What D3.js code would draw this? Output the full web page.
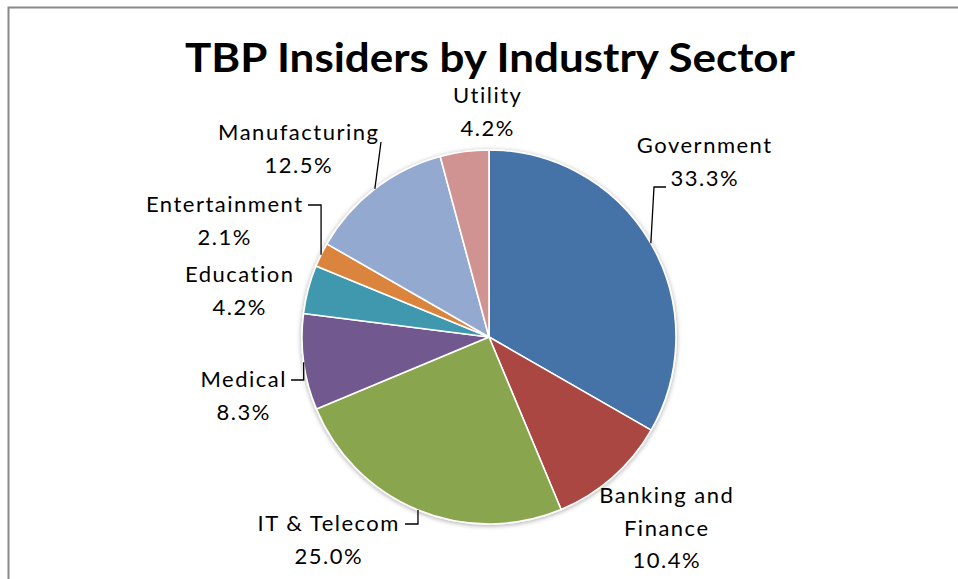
<!DOCTYPE html>
<html>
<head>
<meta charset="utf-8">
<script src="https://cdn.jsdelivr.net/npm/d3@7"></script>
<style>
  html, body { margin: 0; padding: 0; background: #fff; }
  svg { display: block; }
  text { font-family: Lato, "Noto Sans", sans-serif; fill: #000; }
</style>
</head>
<body>
<svg id="chart" width="958" height="579"></svg>
<script>
// ---- data ----
const categories = ["Government", "Banking and Finance", "IT & Telecom", "Medical",
                    "Education", "Entertainment", "Manufacturing", "Utility"];
const percents = [33.3, 10.4, 25.0, 8.3, 4.2, 2.1, 12.5, 4.2];
const colors = ["#4572A7", "#AA4643", "#89A54E", "#71588F",
                "#4198AF", "#DB843D", "#93A9CF", "#D19392"];
const title = "TBP Insiders by Industry Sector";

// ---- layout (label anchor positions: center x, first baseline y, wrapped name lines) ----
const labelLayout = {
  "Government":          { x: 704, y: 153, lines: ["Government"], leader: { side: "left", tx: 666, ty: 187 } },
  "Banking and Finance": { x: 666, y: 503, lines: ["Banking and", "Finance"], leader: null },
  "IT & Telecom":        { x: 328, y: 531, lines: ["IT & Telecom"], leader: { side: "right", tx: 405, ty: 524 } },
  "Medical":             { x: 243, y: 387, lines: ["Medical"], leader: { side: "right", tx: 291, ty: 380 } },
  "Education":           { x: 239, y: 282, lines: ["Education"], leader: null },
  "Entertainment":       { x: 224, y: 212, lines: ["Entertainment"], leader: { side: "right", tx: 308, ty: 205 } },
  "Manufacturing":       { x: 298, y: 140, lines: ["Manufacturing"], leader: { side: "up", tx: 381, ty: 142 } },
  "Utility":             { x: 487, y: 103, lines: ["Utility"], leader: null }
};

const W = 958, H = 579;
const cx = 489, cy = 337, R = 187;
const lineH = 32.5;
const ls = 1.5;

const svg = d3.select("#chart");

// frame
svg.append("path")
  .attr("d", `M8.5,${H} L8.5,7.5 L${W},7.5`)
  .attr("fill", "none").attr("stroke", "#8a8a8a").attr("stroke-width", 2);

// title
svg.append("text")
  .attr("x", 490).attr("y", 72)
  .attr("text-anchor", "middle")
  .attr("font-weight", 700)
  .attr("font-size", 41)
  .attr("textLength", 610)
  .attr("lengthAdjust", "spacingAndGlyphs")
  .text(title);

// shadow filter
const defs = svg.append("defs");
const f = defs.append("filter").attr("id", "shadow").attr("x", "-10%").attr("y", "-10%").attr("width", "120%").attr("height", "120%");
f.append("feGaussianBlur").attr("in", "SourceAlpha").attr("stdDeviation", 2.5).attr("result", "b");
f.append("feOffset").attr("in", "b").attr("dx", 0).attr("dy", 1).attr("result", "o");
f.append("feComponentTransfer").attr("in", "o").attr("result", "o2")
  .append("feFuncA").attr("type", "linear").attr("slope", 0.35);
const m = f.append("feMerge");
m.append("feMergeNode").attr("in", "o2");
m.append("feMergeNode").attr("in", "SourceGraphic");

const data = categories.map((c, i) => ({ name: c, value: percents[i], color: colors[i] }));
const pie = d3.pie().sort(null).value(d => d.value);
const arcs = pie(data);
const arc = d3.arc().innerRadius(0).outerRadius(R);

const g = svg.append("g").attr("transform", `translate(${cx},${cy})`).attr("filter", "url(#shadow)");
g.selectAll("path").data(arcs).enter().append("path")
  .attr("d", arc)
  .attr("fill", d => d.data.color)
  .attr("stroke", "#fff")
  .attr("stroke-width", 1.6)
  .attr("stroke-linejoin", "round");

// labels
const fmt = d3.format(".1f");
const lab = svg.append("g");
arcs.forEach(a => {
  const L = labelLayout[a.data.name];
  const t = lab.append("text")
    .attr("text-anchor", "middle")
    .attr("font-size", 22)
    .attr("letter-spacing", ls);
  const lines = L.lines.concat([fmt(a.data.value) + "%"]);
  lines.forEach((s, i) => {
    t.append("tspan").attr("x", L.x + ls / 2).attr("y", L.y + i * lineH).text(s);
  });

  if (L.leader) {
    const mid = (a.startAngle + a.endAngle) / 2;
    const ex = cx + R * Math.sin(mid);
    const ey = cy - R * Math.cos(mid);
    let d;
    if (L.leader.side === "up") {
      d = `M${L.leader.tx},${L.leader.ty} L${ex},${ey}`;
    } else if (L.leader.side === "left") {
      d = `M${L.leader.tx},${L.leader.ty} L${L.leader.tx - 12},${L.leader.ty} L${ex},${ey}`;
    } else {
      d = `M${L.leader.tx},${L.leader.ty} L${ex},${L.leader.ty} L${ex},${ey}`;
    }
    lab.append("path").attr("d", d).attr("fill", "none")
      .attr("stroke", "#000").attr("stroke-width", 1.3);
  }
});
</script>
</body>
</html>
